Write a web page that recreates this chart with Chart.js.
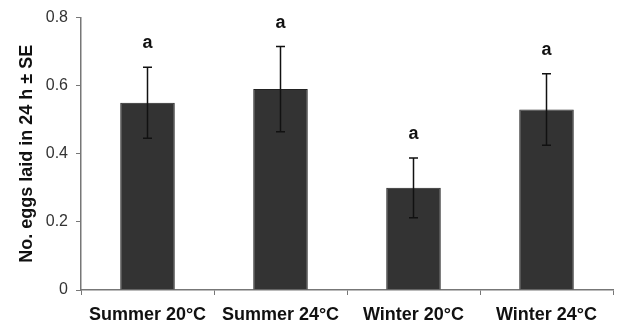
<!DOCTYPE html>
<html>
<head>
<meta charset="utf-8">
<script src="https://cdn.jsdelivr.net/npm/chart.js@4"></script>
<style>
  html, body { margin: 0; padding: 0; background: #fff; }
  #wrap { width: 619px; height: 325px; }
</style>
</head>
<body>
<div id="wrap"><canvas id="c" width="619" height="325"></canvas></div>
<script>
// data
const groups = ["Summer 20°C", "Summer 24°C", "Winter 20°C", "Winter 24°C"];
const means = [0.55, 0.59, 0.30, 0.53];
const se = [0.104, 0.125, 0.088, 0.105];
const letters = ["a", "a", "a", "a"];
const yTicks = [0, 0.2, 0.4, 0.6, 0.8];

// error bars + significance letters
const errorBars = {
  id: "errorBars",
  afterDatasetsDraw(chart) {
    const ctx = chart.ctx;
    const y = chart.scales.y;
    const meta = chart.getDatasetMeta(0);
    ctx.save();
    meta.data.forEach((bar, i) => {
      const x = bar.x;
      const top = y.getPixelForValue(means[i] + se[i]);
      const bot = y.getPixelForValue(means[i] - se[i]);
      ctx.strokeStyle = "#111";
      ctx.lineWidth = 1.5;
      ctx.beginPath();
      ctx.moveTo(x, top);
      ctx.lineTo(x, bot);
      ctx.moveTo(x - 4.5, top);
      ctx.lineTo(x + 4.5, top);
      ctx.moveTo(x - 4.5, bot);
      ctx.lineTo(x + 4.5, bot);
      ctx.stroke();

      ctx.fillStyle = "#111";
      ctx.font = "bold 18px 'Liberation Sans', Arial, sans-serif";
      ctx.textAlign = "center";
      ctx.textBaseline = "alphabetic";
      ctx.fillText(letters[i], x, top - 19);
    });
    ctx.restore();
  }
};

new Chart(document.getElementById("c"), {
  type: "bar",
  data: {
    labels: groups,
    datasets: [{
      data: means,
      backgroundColor: "#333333",
      borderColor: "#222222",
      borderWidth: 1,
      barPercentage: 0.41,
      categoryPercentage: 1.0
    }]
  },
  options: {
    responsive: false,
    animation: false,
    layout: { padding: { top: 17, right: 6, left: 0, bottom: 0 } },
    plugins: {
      legend: { display: false },
      tooltip: { enabled: false }
    },
    scales: {
      x: {
        grid: {
          offset: true,
          drawOnChartArea: false,
          drawTicks: true,
          tickLength: 5,
          color: "#777"
        },
        border: { color: "#777", width: 1.5 },
        ticks: {
          color: "#111",
          padding: 9,
          maxRotation: 0,
          autoSkip: false,
          font: { family: "'Liberation Sans', Arial, sans-serif", size: 18, weight: "bold" }
        },
        afterFit(s) { s.height = 35; }
      },
      y: {
        min: 0,
        max: 0.8,
        afterBuildTicks(s) { s.ticks = yTicks.map(v => ({ value: v })); },
        grid: {
          drawOnChartArea: false,
          drawTicks: true,
          tickLength: 5,
          color: "#777"
        },
        border: { color: "#777", width: 1.5 },
        ticks: {
          color: "#333",
          padding: 8,
          callback: v => (v === 0 ? "0" : v.toFixed(1)),
          font: { family: "'Liberation Sans Narrow', 'Liberation Sans', Arial, sans-serif", size: 16 }
        },
        title: {
          display: true,
          text: "No. eggs laid in 24 h ± SE",
          color: "#111",
          padding: { top: 16, bottom: 4 },
          font: { family: "'Liberation Sans', Arial, sans-serif", size: 18, weight: "bold" }
        },
        afterFit(s) { s.width = 81; }
      }
    }
  },
  plugins: [errorBars]
});
</script>
</body>
</html>
